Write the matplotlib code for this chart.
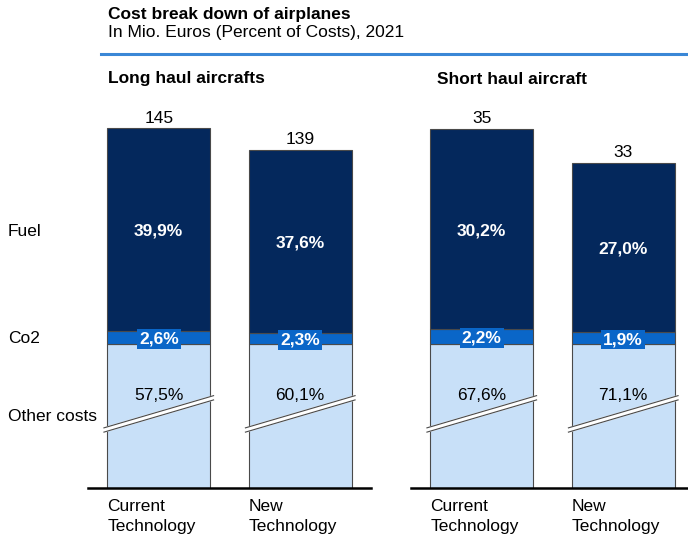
import matplotlib.pyplot as plt
from matplotlib.transforms import blended_transform_factory

plt.rcParams['font.family'] = ['Liberation Sans', 'DejaVu Sans']

# data
panels = ['Long haul aircrafts', 'Short haul aircraft']
technologies = ['Current\nTechnology', 'New\nTechnology']
totals = [[145, 139], [35, 33]]
fuel_pct = [[39.9, 37.6], [30.2, 27.0]]
co2_pct = [[2.6, 2.3], [2.2, 1.9]]
other_pct = [[57.5, 60.1], [67.6, 71.1]]
row_labels = ['Fuel', 'Co2', 'Other costs']

fuel_color = '#04285c'
co2_color = '#0a66c8'
other_color = '#c8e0f8'
edge_color = '#4a4a4a'
fs = 12.5

fig = plt.figure(figsize=(6.88, 5.4), dpi=100)

fig.text(108 / 688, 1 - 14 / 540, 'Cost break down of airplanes', fontsize=fs,
         fontweight='bold', va='center', ha='left')
fig.text(108 / 688, 1 - 33 / 540, 'In Mio. Euros (Percent of Costs), 2021', fontsize=fs,
         va='center', ha='left')
fig.add_artist(plt.Line2D([101 / 688, 1], [1 - 54 / 540, 1 - 54 / 540],
                          transform=fig.transFigure, color='#3a87d6', lw=2.2))

axes_left = [88 / 688, 411 / 688]
title_x = [108 / 688, 437 / 688]
bar_w = 0.725


def pct(v):
    return f'{v:.1f}%'.replace('.', ',')


for p in range(2):
    ax = fig.add_axes([axes_left[p], 1 - 488 / 540, 283 / 688, 388 / 540])
    tot = totals[p]
    other = [t * o / 100 for t, o in zip(tot, other_pct[p])]
    co2 = [t * c / 100 for t, c in zip(tot, co2_pct[p])]
    fuel = [t * f / 100 for t, f in zip(tot, fuel_pct[p])]
    # the break absorbs small differences, so the visible "other" blocks line up
    level = max(other)
    shift = [level - o for o in other]
    base2 = [level + c for c in co2]
    x = list(range(len(tot)))

    ax.bar(x, other, bar_w, bottom=shift, color=other_color, edgecolor=edge_color, lw=0.8)
    ax.bar(x, co2, bar_w, bottom=level, color=co2_color, edgecolor=edge_color, lw=0.8)
    ax.bar(x, fuel, bar_w, bottom=base2, color=fuel_color, edgecolor=edge_color, lw=0.8)

    # truncated axis: keep the upper part, cut the "other" block
    top = max(tot)
    span = top - level
    ax.set_ylim(level - 0.67 * span, top + 0.135 * span)
    ax.set_xlim(-0.5, 1.5)

    bt = blended_transform_factory(ax.transData, ax.transAxes)
    for i in x:
        ax.annotate(str(tot[i]), (i, base2[i] + fuel[i]), xytext=(0, 2),
                    textcoords='offset points', ha='center', va='bottom', fontsize=fs)
        ax.text(i, base2[i] + fuel[i] / 2, pct(fuel_pct[p][i]), ha='center',
                va='center_baseline', color='white', fontsize=fs, fontweight='bold')
        ax.text(i, level + co2[i] / 2, pct(co2_pct[p][i]), ha='center',
                va='center_baseline', color='white', fontsize=fs, fontweight='bold',
                bbox=dict(boxstyle='square,pad=0.13', fc=co2_color, ec='none'))
        ax.text(i, 0.242, pct(other_pct[p][i]), transform=bt, ha='center',
                va='center_baseline', fontsize=fs)
        # break marks
        x0, x1 = i - bar_w / 2 - 0.025, i + bar_w / 2 + 0.025
        y0, y1 = 0.144, 0.227
        g = 0.011
        ax.fill([x0, x1, x1, x0], [y0, y1, y1 + g, y0 + g], transform=bt,
                color='white', zorder=3, clip_on=False)
        ax.plot([x0, x1], [y0, y1], transform=bt, color=edge_color, lw=0.8, zorder=4,
                clip_on=False)
        ax.plot([x0, x1], [y0 + g, y1 + g], transform=bt, color=edge_color, lw=0.8,
                zorder=4, clip_on=False)
        ax.text(i - bar_w / 2, -0.028, technologies[i], transform=bt, ha='left', va='top',
                fontsize=fs, linespacing=1.4)

    for s in ['top', 'left', 'right']:
        ax.spines[s].set_visible(False)
    ax.spines['bottom'].set_linewidth(1.8)
    ax.set_xticks([])
    ax.set_yticks([])

    fig.text(title_x[p], 1 - 79 / 540, panels[p], fontsize=fs, fontweight='bold',
             va='center', ha='left')

    if p == 0:
        rt = blended_transform_factory(fig.transFigure, ax.transData)
        ax.text(8 / 688, base2[0] + fuel[0] / 2, row_labels[0], transform=rt,
                va='center_baseline', fontsize=fs)
        ax.text(8 / 688, level + co2[0] / 2, row_labels[1], transform=rt,
                va='center_baseline', fontsize=fs)
        rt2 = blended_transform_factory(fig.transFigure, ax.transAxes)
        ax.text(8 / 688, 0.188, row_labels[2], transform=rt2, va='center_baseline',
                fontsize=fs)

fig.savefig('out.png', dpi=100)
